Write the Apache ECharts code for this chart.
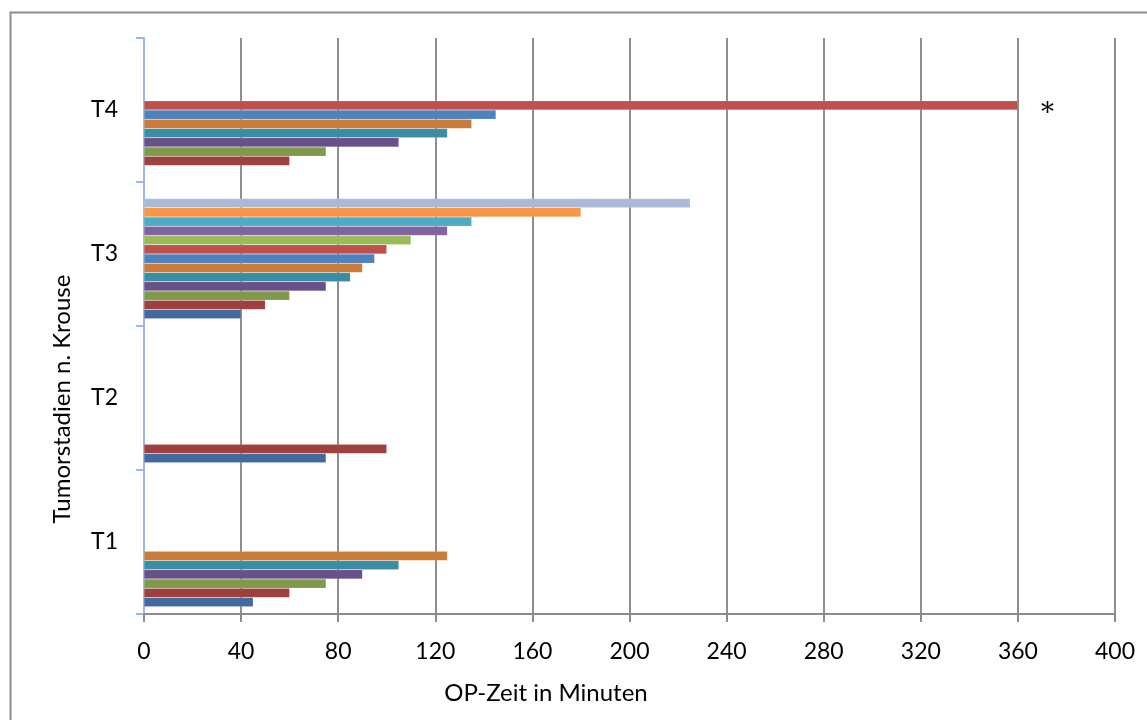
<!DOCTYPE html>
<html>
<head>
<meta charset="utf-8">
<script src="https://cdn.jsdelivr.net/npm/echarts@6/dist/echarts.min.js"></script>
<style>
  html, body { margin: 0; padding: 0; background: #ffffff; }
  #chart { width: 1147px; height: 720px; }
</style>
</head>
<body>
<div id="chart"></div>
<script>
// Tumour stages (Krouse) on the category axis, bottom to top
const categories = ['T1', 'T2', 'T3', 'T4'];

// Operating times in minutes, one array per case slot (T1, T2, T3, T4)
const fall01 = [45, 75, 40, null];
const fall02 = [60, 100, 50, 60];
const fall03 = [75, null, 60, 75];
const fall04 = [90, null, 75, 105];
const fall05 = [105, null, 85, 125];
const fall06 = [125, null, 90, 135];
const fall07 = [null, null, 95, 145];
const fall08 = [null, null, 100, 360];
const fall09 = [null, null, 110, null];
const fall10 = [null, null, 125, null];
const fall11 = [null, null, 135, null];
const fall12 = [null, null, 180, null];
const fall13 = [null, null, 225, null];
const fall14 = [null, null, null, null];

// Value axis ticks
const xTicks = { min: 0, max: 400, interval: 40 };

// Marker text next to the longest operation
const markerText = '*';

const allCases = [fall01, fall02, fall03, fall04, fall05, fall06, fall07,
                  fall08, fall09, fall10, fall11, fall12, fall13, fall14];

const palette = ['#416a9e', '#9e403d', '#7f9a48', '#6a5088', '#3c8da3', '#cc7a37',
                 '#4f81bd', '#c0504d', '#9bbb59', '#8064a2', '#4bacc6', '#f79646',
                 '#a9bad8', '#2c4d75'];

const FONT = 'Lato, "Open Sans", sans-serif';

// ECharts stacks horizontal clusters top-down, so the first case is added last
// to sit at the bottom of each category band.
const series = allCases.map(function (vals, i) {
  return {
    type: 'bar',
    name: 'Fall ' + (i + 1),
    barGap: '0%',
    barCategoryGap: '10%',
    itemStyle: {
      color: palette[i],
      borderColor: 'rgba(255,255,255,0.25)',
      borderWidth: 0.5
    },
    data: vals.map(function (v) {
      if (v === 360) {
        return {
          value: v,
          label: {
            show: true,
            position: 'right',
            distance: 23,
            offset: [0, 9],
            formatter: markerText,
            fontFamily: '"DejaVu Serif", serif',
            fontSize: 26,
            color: '#000'
          }
        };
      }
      return v;
    })
  };
}).reverse();

const chart = echarts.init(document.getElementById('chart'), null, { renderer: 'canvas' });

chart.setOption({
  animation: false,
  backgroundColor: '#ffffff',
  grid: { left: 144, right: 32, top: 38, bottom: 106, containLabel: false },
  xAxis: {
    type: 'value',
    min: xTicks.min,
    max: xTicks.max,
    interval: xTicks.interval,
    axisLine: { show: true, lineStyle: { color: '#8c8c8c', width: 2 } },
    axisTick: { show: true, length: 8, lineStyle: { color: '#8c8c8c', width: 2 } },
    axisLabel: { margin: 26, fontFamily: FONT, fontSize: 23, color: '#000' },
    splitLine: { show: true, lineStyle: { color: '#8e8e8e', width: 2 } }
  },
  yAxis: {
    type: 'category',
    data: categories,
    axisLine: { show: true, lineStyle: { color: '#9db8e0', width: 2 } },
    axisTick: { show: true, length: 8, lineStyle: { color: '#9db8e0', width: 2 } },
    axisLabel: { margin: 26, fontFamily: FONT, fontSize: 23, color: '#000' },
    splitLine: { show: false }
  },
  graphic: [
    {
      type: 'rect',
      left: 8, top: 10,
      shape: { width: 1150, height: 720 },
      style: { fill: 'none', stroke: '#8c8c8c', lineWidth: 2 },
      silent: true
    },
    {
      type: 'text',
      x: 546, y: 693,
      style: {
        text: 'OP-Zeit in Minuten',
        align: 'center', verticalAlign: 'middle',
        font: '24px ' + FONT,
        fill: '#000'
      }
    },
    {
      type: 'text',
      rotation: Math.PI / 2,
      x: 62, y: 399,
      style: {
        text: 'Tumorstadien n. Krouse',
        align: 'center', verticalAlign: 'middle',
        font: '24px ' + FONT,
        fill: '#000'
      }
    }
  ],
  series: series
});
</script>
</body>
</html>
